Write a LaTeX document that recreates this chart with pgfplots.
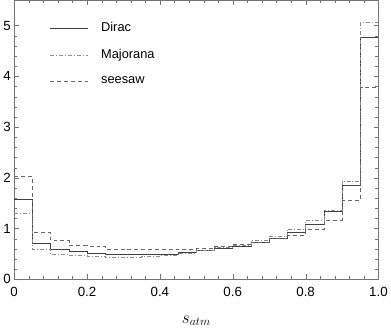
\documentclass[border=0pt]{standalone}
\usepackage{pgfplots}
\pgfplotsset{compat=1.18}
\usepackage{fontspec}
\setmainfont{Liberation Sans}
\begin{document}
\begin{tikzpicture}
\begin{axis}[
  scale only axis, width=368bp, height=282bp,
  xmin=0, xmax=1, ymin=0, ymax=5.5,
  xtick={0,0.2,0.4,0.6,0.8,1}, xticklabels={0,0.2,0.4,0.6,0.8,1.0},
  ytick={0,1,2,3,4,5},
  minor x tick num=4, minor y tick num=4,
  tick align=inside,
  major tick length=5bp, minor tick length=3bp,
  axis line style={black!55}, tick style={black!55},
  ticklabel style={font=\fontsize{13.5}{15}\selectfont},
  xticklabel style={yshift=-4bp},
  /pgf/number format/assume math mode=true,
  xlabel={$s_{atm}$}, xlabel style={font=\fontsize{17}{19}\selectfont, yshift=-13bp},
  legend style={draw=none, fill=none, at={(0.098,0.928)}, anchor=north west,
    font=\fontsize{13}{15}\selectfont, row sep=12.5bp, inner sep=0pt,
    /tikz/every odd column/.append style={column sep=11bp}},
  legend cell align=left,
  legend image code/.code={\draw[#1] (0bp,0bp) -- (38bp,0bp);},
  const plot,
]
% Dirac
\addplot[black!75, line width=0.6pt] coordinates {
 (0,1.57) (0.05,0.72) (0.10,0.60) (0.15,0.55) (0.20,0.52) (0.25,0.50) (0.30,0.49) (0.35,0.49) (0.40,0.50) (0.45,0.53)
 (0.50,0.57) (0.55,0.61) (0.60,0.66) (0.65,0.73) (0.70,0.80) (0.75,0.92) (0.80,1.09) (0.85,1.35) (0.90,1.85) (0.95,4.77) (1.0,4.77)
};
\addlegendentry{Dirac}
% Majorana
\addplot[black!45, line width=0.6pt, dash pattern=on 4pt off 2pt on 1pt off 2pt] coordinates {
 (0,1.31) (0.05,0.60) (0.10,0.49) (0.15,0.47) (0.20,0.46) (0.25,0.44) (0.30,0.44) (0.35,0.45) (0.40,0.47) (0.45,0.51)
 (0.50,0.58) (0.55,0.64) (0.60,0.68) (0.65,0.77) (0.70,0.85) (0.75,0.99) (0.80,1.17) (0.85,1.37) (0.90,1.94) (0.95,5.06) (1.0,5.06)
};
\addlegendentry{Majorana}
% seesaw
\addplot[black!60, line width=0.6pt, dash pattern=on 4pt off 3pt] coordinates {
 (0,2.03) (0.05,0.93) (0.10,0.765) (0.15,0.67) (0.20,0.66) (0.25,0.60) (0.30,0.59) (0.35,0.59) (0.40,0.59) (0.45,0.60)
 (0.50,0.62) (0.55,0.65) (0.60,0.69) (0.65,0.73) (0.70,0.80) (0.75,0.86) (0.80,0.98) (0.85,1.17) (0.90,1.55) (0.95,3.79) (1.0,3.79)
};
\addlegendentry{seesaw}
\end{axis}
\end{tikzpicture}
\end{document}
